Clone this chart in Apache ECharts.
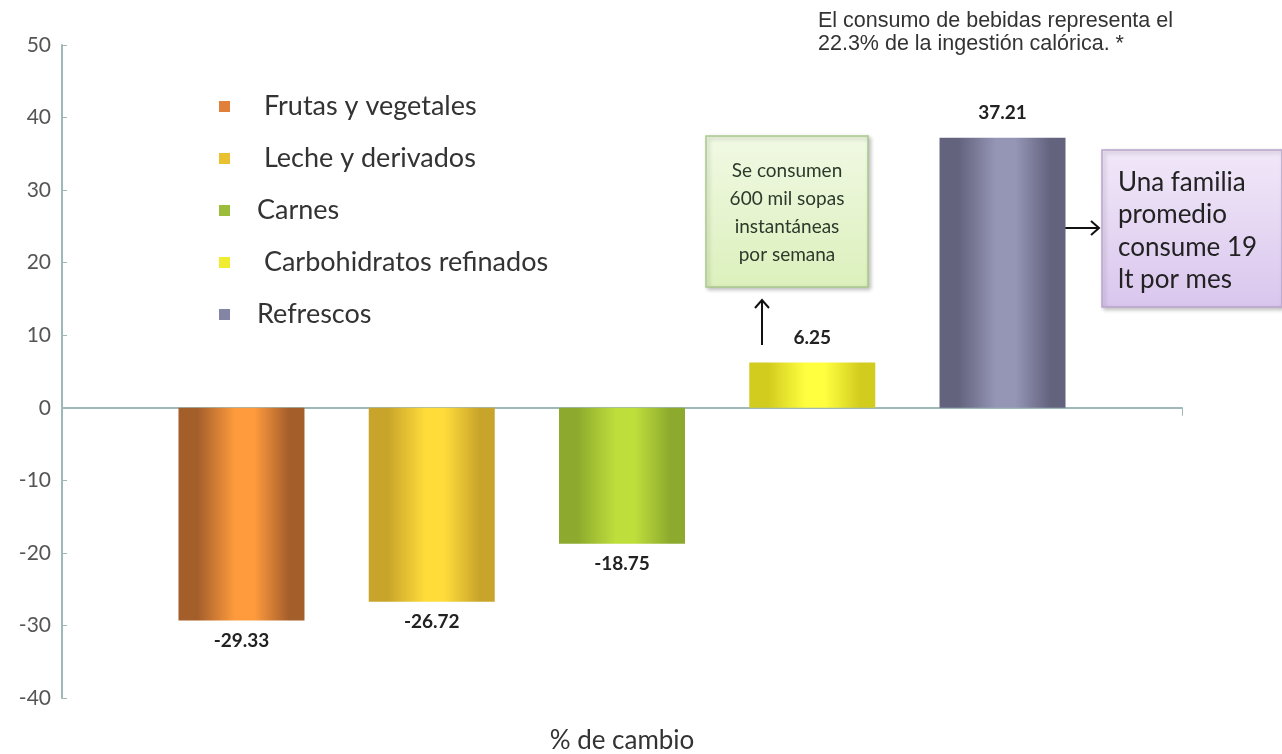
<!DOCTYPE html>
<html>
<head>
<meta charset="utf-8">
<title>% de cambio</title>
<script src="https://cdn.jsdelivr.net/npm/echarts@6/dist/echarts.min.js"></script>
<style>
  html, body { margin: 0; padding: 0; background: #fff; }
  #chart { width: 1282px; height: 754px; }
</style>
</head>
<body>
<div id="chart"></div>
<script>
  // datos
  const seriesNames = ['Frutas y vegetales', 'Leche y derivados', 'Carnes', 'Carbohidratos refinados', 'Refrescos'];
  const seriesValues = [-29.33, -26.72, -18.75, 6.25, 37.21];
  const yTicks = [-40, -30, -20, -10, 0, 10, 20, 30, 40, 50];
  const indented = ['Frutas y vegetales', 'Leche y derivados', 'Carbohidratos refinados'];

  // colores: borde oscuro, centro claro
  const barColors = [
    ['#a45e2a', '#ff9b3d'],
    ['#c8a42a', '#ffdc3a'],
    ['#8eaa2e', '#bede3c'],
    ['#d2cc1e', '#ffff40'],
    ['#63637e', '#9595b6'],
  ];
  const legendColors = ['#e0803a', '#e8c030', '#9cbc3c', '#f0ec30', '#8484a4'];

  const FONT = 'Lato, "Open Sans", sans-serif';

  const chart = echarts.init(document.getElementById('chart'));

  function stripe(c) {
    return {
      type: 'linear', x: 0, y: 0, x2: 1, y2: 0,
      colorStops: [
        { offset: 0, color: c[0] },
        { offset: 0.15, color: c[0] },
        { offset: 0.45, color: c[1] },
        { offset: 0.6, color: c[1] },
        { offset: 0.88, color: c[0] },
        { offset: 1, color: c[0] },
      ],
    };
  }

  const series = seriesNames.map((name, i) => ({
    name: name,
    type: 'bar',
    barWidth: 126,
    barGap: '51%',
    itemStyle: { color: stripe(barColors[i]) },
    label: {
      show: true,
      position: seriesValues[i] < 0 ? 'bottom' : 'top',
      distance: seriesValues[i] < 0 ? 11 : 15,
      fontFamily: FONT,
      fontWeight: 'bold',
      fontSize: 19,
      color: '#222',
      formatter: (p) => p.value.toFixed(2),
    },
    data: [seriesValues[i]],
  }));

  const option = {
    animation: false,
    color: legendColors,
    grid: { left: 62, right: 100, top: 45, bottom: 56 },
    legend: {
      orient: 'vertical',
      left: 214,
      top: 88,
      icon: 'rect',
      itemWidth: 11,
      itemHeight: 11,
      itemGap: 25,
      data: seriesNames.map((n, i) => ({ name: n, itemStyle: { color: legendColors[i] } })),
      formatter: (n) => (indented.includes(n) ? ' ' + n : n),
      textStyle: { fontFamily: FONT, fontSize: 27, color: '#333', padding: [0, 0, 0, 22] },
    },
    xAxis: {
      type: 'category',
      data: [''],
      axisLine: { lineStyle: { color: '#9fb9b9', width: 2 } },
      axisTick: { show: true, length: 8, lineStyle: { color: '#9fb9b9' } },
      axisLabel: { show: false },
    },
    yAxis: {
      type: 'value',
      min: yTicks[0],
      max: yTicks[yTicks.length - 1],
      interval: 10,
      splitLine: { show: false },
      axisLine: { show: true, lineStyle: { color: '#9fb9b9', width: 2 } },
      axisTick: { show: true, inside: true, length: 5, lineStyle: { color: '#9fb9b9' } },
      axisLabel: { fontFamily: FONT, fontSize: 21, color: '#555', margin: 11 },
    },
    series: series,
    graphic: [
      {
        type: 'text', left: 818, top: 10,
        style: {
          text: 'El consumo de bebidas representa el\n22.3% de la ingestión calórica. *',
          font: '21.5px "Liberation Sans", Arial, sans-serif',
          fill: '#333', lineHeight: 23,
        },
      },
      {
        type: 'rect', shape: { x: 706, y: 136, width: 162, height: 151 },
        style: {
          fill: { type: 'linear', x: 0, y: 0, x2: 0, y2: 1, colorStops: [{ offset: 0, color: '#f1f9e4' }, { offset: 1, color: '#dcf0bc' }] },
          stroke: '#a9c98c', lineWidth: 1.5,
          shadowBlur: 4, shadowOffsetX: 2, shadowOffsetY: 2, shadowColor: 'rgba(0,0,0,0.25)',
        },
      },
      {
        type: 'text', x: 787, y: 157,
        style: {
          text: 'Se consumen\n600 mil sopas\ninstantáneas\npor semana',
          font: '19px ' + FONT, fill: '#2c3a2c', align: 'center', lineHeight: 28,
        },
      },
      {
        type: 'rect', shape: { x: 1102, y: 150, width: 180, height: 157 },
        style: {
          fill: { type: 'linear', x: 0, y: 0, x2: 0, y2: 1, colorStops: [{ offset: 0, color: '#f1e8f8' }, { offset: 1, color: '#dac6ee' }] },
          stroke: '#b9a5cd', lineWidth: 1.5,
          shadowBlur: 4, shadowOffsetX: 2, shadowOffsetY: 2, shadowColor: 'rgba(0,0,0,0.25)',
        },
      },
      {
        type: 'text', x: 1118, y: 166,
        style: {
          text: 'Una familia\npromedio\nconsume 19\nlt por mes',
          font: '26px ' + FONT, fill: '#222', lineHeight: 32.5,
        },
      },
      // flecha hacia arriba
      { type: 'line', shape: { x1: 762, y1: 345, x2: 762, y2: 300 }, style: { stroke: '#111', lineWidth: 2 } },
      { type: 'polyline', shape: { points: [[755, 308], [762, 300], [769, 308]] }, style: { stroke: '#111', lineWidth: 2, fill: null } },
      // flecha hacia la derecha
      { type: 'line', shape: { x1: 1064, y1: 228, x2: 1099, y2: 228 }, style: { stroke: '#111', lineWidth: 2 } },
      { type: 'polyline', shape: { points: [[1091, 221], [1099, 228], [1091, 235]] }, style: { stroke: '#111', lineWidth: 2, fill: null } },
      {
        type: 'text', x: 622, y: 741,
        style: { text: '% de cambio', font: '26px ' + FONT, fill: '#333', align: 'center', verticalAlign: 'middle' },
      },
    ],
  };

  chart.setOption(option);
</script>
</body>
</html>
